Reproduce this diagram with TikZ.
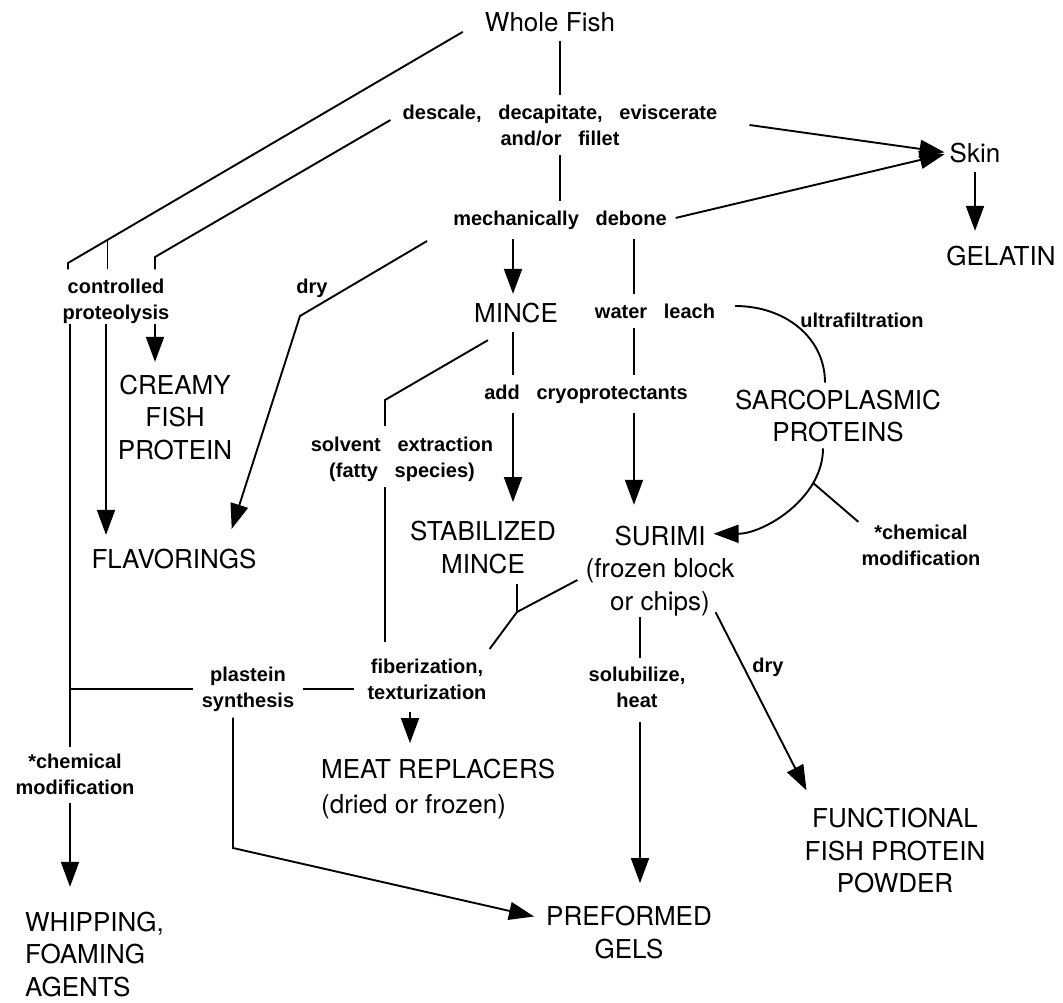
\documentclass[tikz,border=0pt]{standalone}
\usepackage{fontspec}
\newfontfamily\prodfont{TeX Gyre Heros}
\newfontfamily\procfont[WordSpace=3]{Liberation Sans}
\usetikzlibrary{arrows.meta}
\begin{document}
\begin{tikzpicture}[x=1pt, y=-1pt,
    prod/.style={font=\prodfont\fontsize{26}{32.5}\selectfont, align=center, inner sep=0pt},
    proc/.style={font=\procfont\bfseries\fontsize{20}{26}\selectfont, align=center, inner sep=0pt},
    link/.style={line width=1.9pt},
    flow/.style={link, -{Triangle[length=25pt,width=18pt]}},
    gap/.style={shorten <=#1, shorten >=#1}, gap/.default=9pt]
    \useasboundingbox (0,0) rectangle (1063,1002);

    % products
    \node[prod] (fish) at (550,22) {Whole Fish};
    \node[prod] (skin) at (975,153) {Skin};
    \node[prod] (gelatin) at (1001,256) {GELATIN};
    \node[prod] (mince) at (516,313) {MINCE};
    \node[prod] (creamy) at (175,417.5) {CREAMY\\FISH\\PROTEIN};
    \node[prod] (flavor) at (174,559) {FLAVORINGS};
    \node[prod] (sarco) at (838,416) {SARCOPLASMIC\\PROTEINS};
    \node[prod] (stab) at (483,547.5) {STABILIZED\\MINCE};
    \node[prod] (surimi) at (660,571) {SURIMI\\(frozen block\\or chips)};
    \node[prod, align=left, anchor=west] (meat) at (321,789) {MEAT REPLACERS\\[2pt](dried or frozen)};
    \node[prod, align=left, anchor=west] (whip) at (25,954.5) {WHIPPING,\\FOAMING\\AGENTS};
    \node[prod] (gels) at (629,932.5) {PREFORMED\\GELS};
    \node[prod] (powder) at (895,851) {FUNCTIONAL\\FISH PROTEIN\\POWDER};

    % process steps
    \node[proc] (descale) at (560,125) {descale, decapitate, eviscerate\\and/or fillet};
    \node[proc] (debone) at (560,220) {mechanically debone};
    \node[proc] (proteo) at (116,301) {controlled\\proteolysis};
    \node[proc] (dryA) at (312,288) {dry};
    \node[proc] (leach) at (655,311) {water leach};
    \node[proc] (ultra) at (862,320) {ultrafiltration};
    \node[proc] (cryo) at (586,394) {add cryoprotectants};
    \node[proc] (solvent) at (402,459.5) {solvent extraction\\(fatty species)};
    \node[proc] (chemR) at (921,545) {*chemical\\modification};
    \node[proc] (fiber) at (427,679.5) {fiberization,\\texturization};
    \node[proc] (plastein) at (248,689) {plastein\\synthesis};
    \node[proc] (solub) at (637,687.5) {solubilize,\\heat};
    \node[proc] (dryB) at (768,667) {dry};
    \node[proc] (chemL) at (75,774) {*chemical\\modification};

    \coordinate (whipcol) at (70,0);
    \coordinate (flavcol) at (106,0);
    \coordinate (creamcol) at (155,0);
    \coordinate (mincecol) at (513,0);
    \coordinate (leachcol) at (634,0);
    \coordinate (fibercol) at (410,0);
    \coordinate (solcol) at (640,0);
    \coordinate (kneeA) at (68,263);
    \coordinate (kneeB) at (155,257);
    \coordinate (kneeD) at (300,316);
    \coordinate (kneeS) at (385,400);
    \coordinate (kneeP) at (233,848);
    \coordinate (join) at (517,612);

    % trunk
    \draw[link, gap] (fish.south -| descale) -- (descale.north);
    \draw[link, gap] (descale.south) -- (debone.north -| descale);
    \draw[flow, shorten >=5pt] ([xshift=32pt]descale.east) -- (skin.west);
    \draw[flow, shorten <=9pt, shorten >=5pt] (debone.east) -- (skin.west);
    \draw[flow, shorten <=9pt, shorten >=15pt] (skin.south) -- (skin.south |- gelatin.north);

    % left branches
    \draw[link, shorten >=9pt] ([xshift=-22pt]fish.south west) -- coordinate[pos=0.9] (tickA) (kneeA) -- (kneeA |- proteo.north);
    \draw[link, shorten >=9pt] (tickA) -- (tickA |- proteo.north);
    \draw[link, shorten >=9pt] ([shift={(-12,-5)}]descale.west) -- (kneeB) -- (kneeB |- proteo.north);
    \draw[link, shorten >=6pt] (proteo.south -| whipcol) -- (chemL.north -| whipcol);
    \draw[flow, shorten <=8pt, shorten >=25pt] (chemL.south -| whipcol) -- (whip.north -| whipcol);
    \draw[flow, shorten >=14pt] (proteo.south -| flavcol) -- (flavor.north -| flavcol);
    \draw[flow, shorten >=13pt] (proteo.south -| creamcol) -- (creamy.north -| creamcol);
    \draw[flow] ([shift={(-26,21)}]debone.west) -- (kneeD) -- ([shift={(-25,-20)}]flavor.north east);

    % mince and surimi
    \draw[flow, gap] (debone.south -| mincecol) -- (mince.north -| mincecol);
    \draw[link, gap] (debone.south -| leachcol) -- (leach.north -| leachcol);
    \draw[link, gap] (mince.south -| mincecol) -- (cryo.north -| mincecol);
    \draw[flow, shorten <=9pt, shorten >=19pt] (cryo.south -| mincecol) -- (stab.north -| mincecol);
    \draw[link, gap] (leach.south -| leachcol) -- (cryo.north -| leachcol);
    \draw[flow, shorten <=9pt, shorten >=21pt] (cryo.south -| leachcol) -- (surimi.north -| leachcol);
    \draw[link] ([shift={(20,-5)}]leach.east) .. controls +(50,0) and +(0,-45) .. ([shift={(-13,-7)}]sarco.north);
    \draw[flow] ([shift={(-15,6)}]sarco.south) .. controls +(0,50) and +(50,0) .. coordinate[pos=0.25] (chemjoin) ([shift={(-21,8)}]surimi.north east);
    \draw[link, shorten >=4pt] (chemjoin) -- (chemR.north west);

    % fibers and gels
    \draw[link, shorten >=11pt] ([shift={(-28,17)}]mince.south) -- (kneeS) -- (kneeS |- solvent.north);
    \draw[link, shorten <=5pt, shorten >=17pt] (solvent.south -| kneeS) -- (fiber.north -| kneeS);
    \draw[link, shorten <=10pt] (stab.south -| join) -- (join);
    \draw[link] ([shift={(-8,9)}]surimi.west) -- (join) -- ([shift={(3,-10)}]fiber.north east);
    \draw[link, shorten <=9pt, shorten >=13pt] (plastein.east) -- (plastein.east -| fiber.west);
    \draw[link, shorten <=9pt] (plastein.west) -- (plastein.west -| whipcol);
    \draw[flow, shorten <=12pt, shorten >=16pt] (fiber.south -| fibercol) -- (meat.north west -| fibercol);
    \draw[flow, shorten <=6pt] (plastein.south -| kneeP) -- (kneeP) -- ([shift={(-12,-16)}]gels.west);
    \draw[link, shorten <=1pt, shorten >=9pt] (surimi.south -| solcol) -- (solub.north -| solcol);
    \draw[flow, shorten <=14pt, shorten >=23pt] (solub.south -| solcol) -- (gels.north -| solcol);
    \draw[flow] ([shift={(-19,-4)}]surimi.south east) -- ([shift={(2,-18)}]powder.north west);
\end{tikzpicture}
\end{document}
